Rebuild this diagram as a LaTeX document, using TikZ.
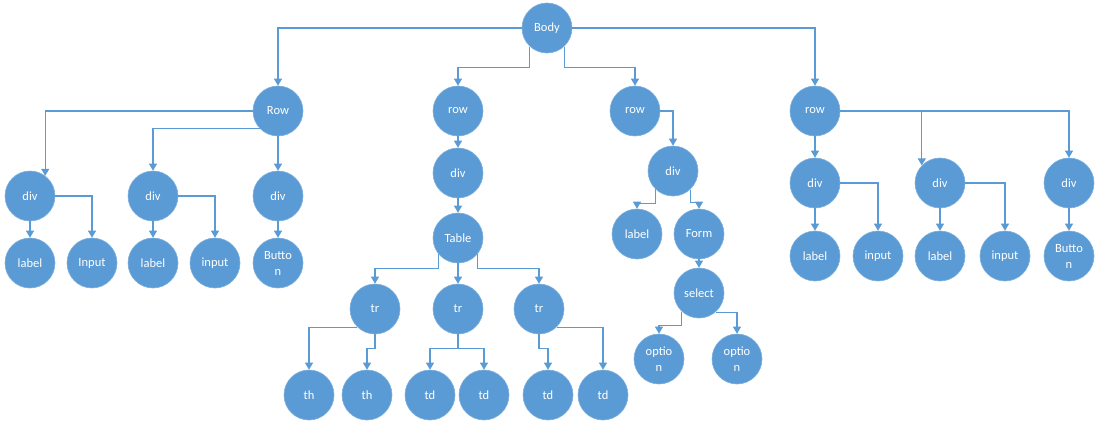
\documentclass[tikz,border=0pt]{standalone}
\usepackage{fontspec}
\setmainfont{Carlito}
\usetikzlibrary{arrows.meta}
\definecolor{nodeblue}{HTML}{5B9BD5}
\tikzset{
  tnode/.style={circle,fill=nodeblue,draw=nodeblue!80!white,line width=0.6pt,minimum size=50pt,inner sep=0pt,
    text=white,align=center,font=\fontsize{12.5}{16}\selectfont},
  edge/.style={draw=nodeblue,line width=1.1pt,-{Triangle[width=8pt,length=7pt]}}
}
\begin{document}
\begin{tikzpicture}[x=1pt,y=1pt]
\useasboundingbox (0,0) rectangle (1100,-428);
% nodes
\node[tnode] (Body) at (547,-28) {Body};
\node[tnode] (R1) at (278,-111) {Row};
\node[tnode] (R2) at (458,-111) {row};
\node[tnode] (R3) at (635,-111) {row};
\node[tnode] (R4) at (815,-111) {row};
% group A
\node[tnode] (a1) at (30,-196) {div};
\node[tnode] (la1) at (30,-263) {label};
\node[tnode] (in1) at (92,-263) {Input};
\node[tnode] (a2) at (153,-196) {div};
\node[tnode] (la2) at (153,-263) {label};
\node[tnode] (in2) at (215,-263) {input};
\node[tnode] (a3) at (278,-196) {div};
\node[tnode] (bt1) at (278,-263) {Butto\\n};
% group B
\node[tnode] (bdiv) at (458,-173) {div};
\node[tnode] (table) at (458,-238) {Table};
\node[tnode] (tr1) at (375,-309) {tr};
\node[tnode] (tr2) at (458,-309) {tr};
\node[tnode] (tr3) at (539,-309) {tr};
\node[tnode] (th1) at (309,-395) {th};
\node[tnode] (th2) at (367,-395) {th};
\node[tnode] (td1) at (430,-395) {td};
\node[tnode] (td2) at (484,-395) {td};
\node[tnode] (td3) at (548,-395) {td};
\node[tnode] (td4) at (603,-395) {td};
% group C
\node[tnode] (cdiv) at (673,-171) {div};
\node[tnode] (cla) at (637,-234) {label};
\node[tnode] (form) at (699,-234) {Form};
\node[tnode] (sel) at (699,-293) {select};
\node[tnode] (op1) at (659,-359) {optio\\n};
\node[tnode] (op2) at (737,-359) {optio\\n};
% group D
\node[tnode] (d1) at (815,-183) {div};
\node[tnode] (dla1) at (815,-256) {label};
\node[tnode] (din1) at (878,-256) {input};
\node[tnode] (d2) at (940,-183) {div};
\node[tnode] (dla2) at (940,-256) {label};
\node[tnode] (din2) at (1005,-256) {input};
\node[tnode] (d3) at (1069,-183) {div};
\node[tnode] (dbt) at (1069,-256) {Butto\\n};
% edges from Body
\draw[edge] (Body.west) -| (R1);
\draw[edge] (Body.east) -| (R4);
\draw[edge] (Body.227) -- ++(0,-21) -| (R2);
\draw[edge] (Body.313) -- ++(0,-21) -| (R3);
% Row (A)
\draw[edge] (R1.west) -| (a1.53);
\draw[edge] (R1.223) -| (a2);
\draw[edge] (R1) -- (a3);
\draw[edge] (a1) -- (la1);
\draw[edge] (a1.east) -| (in1);
\draw[edge] (a2) -- (la2);
\draw[edge] (a2.east) -| (in2);
\draw[edge] (a3) -- (bt1);
% row (B)
\draw[edge] (R2) -- (bdiv);
\draw[edge] (bdiv) -- (table);
\draw[edge] (table.220) -- ++(0,-14) -| (tr1);
\draw[edge] (table) -- (tr2);
\draw[edge] (table.320) -- ++(0,-14) -| (tr3);
\draw[edge] (tr1.226) -| (th1);
\draw[edge] (tr1.south) -- ++(0,-14) -| (th2);
\draw[edge] (tr2.south) -- ++(0,-14) -| (td1);
\draw[edge] (tr2.south) -- ++(0,-14) -| (td2);
\draw[edge] (tr3.south) -- ++(0,-14) -| (td3);
\draw[edge] (tr3.314) -| (td4);
% row (C)
\draw[edge] (R3.east) -| (cdiv);
\draw[edge] (cdiv.226) -- ++(0,-14) -| (cla);
\draw[edge] (cdiv.313) -- ++(0,-13) -| (form);
\draw[edge] (form) -- (sel);
\draw[edge] (sel.227) -- ++(0,-14) -| (op1);
\draw[edge] (sel.311) -| (op2);
% row (D)
\draw[edge] (R4) -- (d1);
\draw[edge] (R4.east) -| (d2.136);
\draw[edge] (R4.east) -| (d3);
\draw[edge] (d1) -- (dla1);
\draw[edge] (d1.east) -| (din1);
\draw[edge] (d2) -- (dla2);
\draw[edge] (d2.east) -| (din2);
\draw[edge] (d3) -- (dbt);
\end{tikzpicture}
\end{document}
